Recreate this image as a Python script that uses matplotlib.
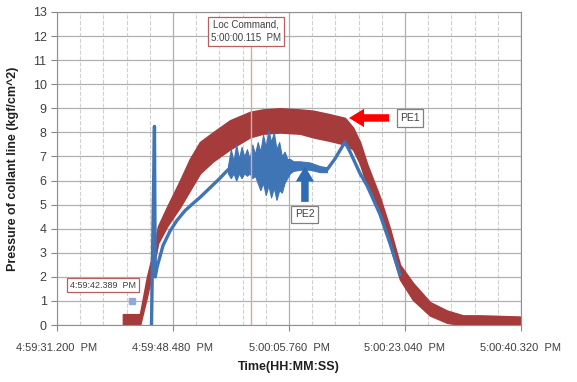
import numpy as np
import matplotlib.pyplot as plt

plt.rcParams['font.family'] = ['Liberation Sans', 'DejaVu Sans']

# time in seconds after 4:59:31.200 PM
tick_t = [0.0, 17.28, 34.56, 51.84, 69.12]
tick_labels = ['4:59:31.200  PM', '4:59:48.480  PM', '5:00:05.760  PM',
               '5:00:23.040  PM', '5:00:40.320  PM']

# PE1 (red) - noise band envelope
pe1_t = [9.83, 12.36, 13.41, 14.30, 15.05, 16.39, 18.32, 19.81, 21.30, 23.24,
         25.77, 28.75, 30.69, 33.22, 36.20, 38.14, 40.67, 42.90, 44.10, 45.14,
         46.18, 48.12, 49.61, 51.10, 53.03, 55.57, 58.10, 60.48, 63.01, 68.97]
pe1_lo = [0.0, 0.0, 1.2, 2.3, 3.4, 4.1, 4.9, 5.6, 6.3, 6.8,
          7.3, 7.8, 7.95, 8.0, 7.95, 7.8, 7.65, 7.5, 7.3, 6.7,
          5.8, 4.6, 3.3, 1.9, 1.05, 0.4, 0.1, 0.0, 0.0, 0.0]
pe1_hi = [0.45, 0.45, 2.0, 3.0, 4.1, 4.9, 6.0, 6.9, 7.6, 8.0,
          8.5, 8.85, 8.95, 9.0, 8.95, 8.9, 8.75, 8.6, 8.2, 7.6,
          6.7, 5.3, 4.0, 2.5, 1.75, 0.95, 0.6, 0.4, 0.4, 0.35]

# PE2 (blue) - main trace
pe2_t = [14.08, 14.52, 14.63, 14.90, 15.79, 16.83, 17.88, 19.07, 20.26, 21.30,
         22.79, 24.28, 25.47, 30.0, 36.20, 40.22, 41.41, 42.90, 43.65, 45.14,
         46.18, 48.12, 49.61, 51.10]
pe2_v = [0.0, 8.25, 2.0, 2.4, 3.3, 3.9, 4.35, 4.75, 5.05, 5.3,
         5.7, 6.1, 6.45, 6.5, 6.6, 6.45, 6.9, 7.6, 7.2, 6.3,
         5.8, 4.6, 3.4, 2.1]

# PE2 noisy section envelope
pe2n_t = [25.47, 25.9, 26.3, 26.7, 27.1, 27.5, 27.9, 28.3, 28.7, 29.1,
          29.5, 29.9, 30.3, 30.7, 31.1, 31.5, 31.9, 32.3, 32.7, 33.1,
          33.5, 33.9, 34.3, 34.7, 35.2, 36.2, 37.7, 39.2, 40.22]
pe2n_lo = [6.3, 6.1, 6.3, 6.0, 6.3, 6.1, 6.3, 6.2, 6.3, 6.1,
           6.2, 5.9, 5.6, 5.9, 5.4, 5.8, 5.3, 5.7, 5.2, 5.6,
           5.5, 5.9, 6.1, 6.3, 6.4, 6.45, 6.45, 6.35, 6.35]
pe2n_hi = [6.6, 7.3, 6.8, 7.5, 6.9, 7.4, 7.0, 7.3, 6.9, 7.5,
           7.1, 7.6, 7.2, 7.9, 7.4, 8.1, 7.6, 8.0, 7.3, 7.6,
           7.0, 7.2, 6.9, 6.9, 6.8, 6.8, 6.75, 6.6, 6.55]

loc_t = 28.915     # 5:00:00.115 PM
start_t = 11.189   # 4:59:42.389 PM
start_v = 1.0

red = '#a53c3b'
blue = '#3f74b5'

fig = plt.figure(figsize=(5.77, 3.82), dpi=100)
ax = fig.add_axes([0.0988, 0.149, 0.804, 0.8196])

ax.set_xlim(tick_t[0], tick_t[-1])
ax.set_ylim(0, 13)
ax.set_xticks(tick_t)
ax.set_xticklabels(tick_labels, fontsize=8, color='#404040')
ax.set_xticks(np.arange(0, 69.13, 3.456), minor=True)
ax.set_yticks(range(0, 14))
ax.tick_params(axis='y', labelsize=9, colors='#404040', length=4, color='#888888')
ax.tick_params(axis='x', which='major', length=4, color='#888888', pad=9)
ax.tick_params(axis='x', which='minor', length=0)
ax.grid(axis='y', color='#b0b0b0', lw=0.9)
ax.grid(axis='x', which='major', color='#b0b0b0', lw=0.9)
ax.grid(axis='x', which='minor', color='#d0d0d0', lw=0.8, ls='--')
ax.set_axisbelow(True)
for s in ax.spines.values():
    s.set_color('#909090')

ax.fill_between(pe1_t, pe1_lo, pe1_hi, color=red, lw=1.2, edgecolor=red, zorder=2)
ax.plot(pe2_t, pe2_v, color=blue, lw=2.4, zorder=3)
ax.fill_between(pe2n_t, pe2n_lo, pe2n_hi, color=blue, lw=0.8, edgecolor=blue, zorder=3)

ax.plot([loc_t, loc_t], [0, 11.6], color='#d8a8a8', lw=1.0, zorder=4)
ax.text(28.2, 12.2, 'Loc Command,\n5:00:00.115  PM', fontsize=7, color='#404040',
        ha='center', va='center', linespacing=1.4, zorder=5,
        bbox=dict(boxstyle='square,pad=0.3', fc='white', ec='#b86060', lw=0.9))

ax.plot([start_t], [start_v], 's', color='#8fa9d8', ms=4, zorder=5)
ax.text(6.85, 1.66, '4:59:42.389  PM', fontsize=6.5, color='#404040',
        ha='center', va='center', zorder=5,
        bbox=dict(boxstyle='square,pad=0.3', fc='white', ec='#b86060', lw=0.9))

ax.annotate('', xy=(43.1, 8.6), xytext=(49.9, 8.6), zorder=6,
            arrowprops=dict(arrowstyle='simple,head_width=1.1,head_length=0.9,tail_width=0.45',
                            mutation_scale=12, color='#ff0000', lw=0))
ax.text(52.6, 8.6, 'PE1', fontsize=7.5, color='#404040', ha='center', va='center', zorder=6,
        bbox=dict(boxstyle='square,pad=0.35', fc='white', ec='#808080', lw=0.9))

ax.annotate('', xy=(36.94, 6.7), xytext=(36.94, 5.0), zorder=6,
            arrowprops=dict(arrowstyle='simple,head_width=1.1,head_length=0.9,tail_width=0.45',
                            mutation_scale=12, color='#2e6cb5', lw=0))
ax.text(36.94, 4.6, 'PE2', fontsize=7.5, color='#404040', ha='center', va='center', zorder=6,
        bbox=dict(boxstyle='square,pad=0.35', fc='white', ec='#808080', lw=0.9))

ax.set_xlabel('Time(HH:MM:SS)', fontsize=9, fontweight='bold', color='#202020', labelpad=6)
ax.set_ylabel('Pressure of collant line (kgf/cm^2)', fontsize=9, fontweight='bold',
              color='#202020', labelpad=10)

fig.savefig('out.png', dpi=100)
